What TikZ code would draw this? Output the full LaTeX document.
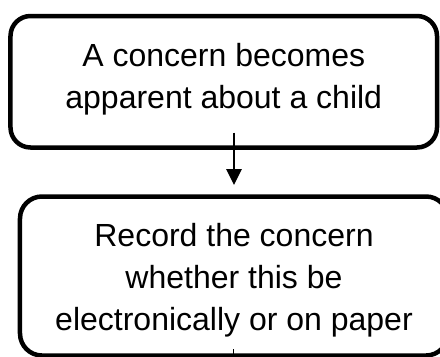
\documentclass[tikz,border=0pt]{standalone}
\usepackage{fontspec}
\setmainfont{Liberation Sans}
\usetikzlibrary{arrows.meta,calc}
\begin{document}
\begin{tikzpicture}[x=1bp,y=-1bp,
  stepbox/.style={draw=black, line width=4.5bp, rectangle, outer sep=0pt,
    inner sep=0pt, align=center, text=black,
    font=\fontsize{32bp}{42bp}\selectfont},
  conn/.style={draw=black, line width=1.5bp},
  arr/.style={conn, -{Triangle[width=15.5bp,length=16bp]}}]
\useasboundingbox (0,0) rectangle (440,356);
\clip (0,0) rectangle (440,356);
\node[stepbox, rounded corners=20bp, minimum width=426.5bp, minimum height=131.5bp]
  (box1) at (223.75,81.75)
  {A concern becomes\\apparent about a child\rule[-12.4bp]{0pt}{1bp}};
\node[stepbox, rounded corners=22bp, minimum width=428bp, minimum height=159bp]
  (box2) at (234,276)
  {\rule{0pt}{32.2bp}Record the concern\\whether this be\\electronically or on paper};
\coordinate (c2) at (233.5,370);
\draw[arr] ([yshift=14.8bp]box1.south -| box2.north) -- ([yshift=11.5bp]box2.north);
\draw[conn] ([yshift=6.5bp]box2.south -| c2) -- (c2);
\end{tikzpicture}
\end{document}
